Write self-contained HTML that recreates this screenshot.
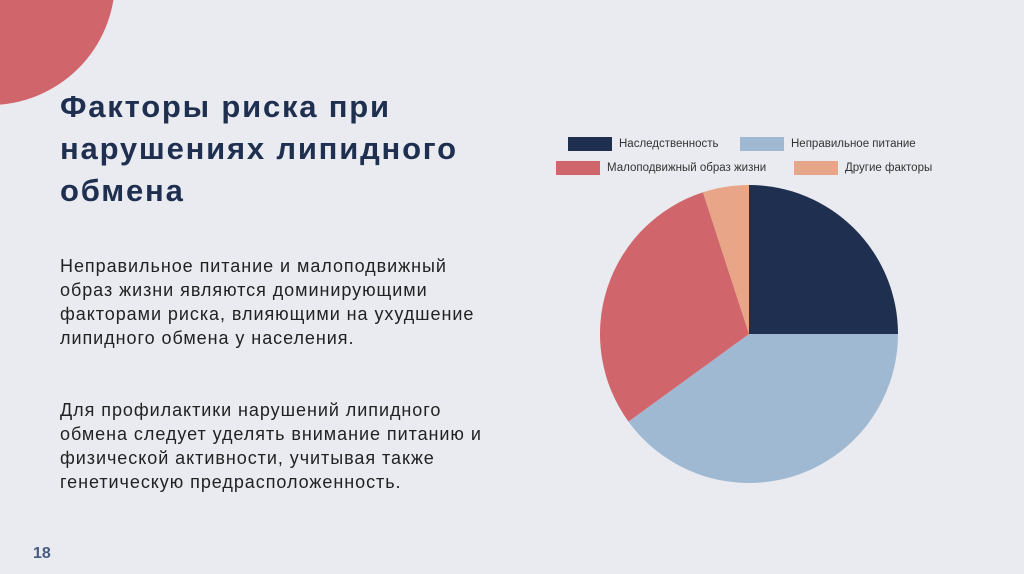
<!DOCTYPE html>
<html><head><meta charset="utf-8"><style>
body{margin:0;width:1024px;height:574px;background:#e9ebf1;position:relative;overflow:hidden;font-family:"Liberation Sans",sans-serif}
.t{position:absolute;left:60px;top:86px;font-size:31px;letter-spacing:1.8px;font-weight:bold;color:#1f2f4f;line-height:42px;margin:0;white-space:nowrap}
.p{position:absolute;left:60px;font-size:18px;letter-spacing:0.95px;line-height:24px;color:#222;margin:0;white-space:nowrap}
.leg{position:absolute;font-size:11.5px;color:#333;display:flex;align-items:center}
.leg i{display:inline-block;width:44px;height:14px;margin-right:7px}
</style></head><body>
<svg style="position:absolute;left:0;top:0" width="130" height="120"><circle cx="-10" cy="-20" r="125" fill="#d1656c"/></svg>
<h1 class="t">Факторы риска при<br>нарушениях липидного<br>обмена</h1>
<p class="p" style="top:254px">Неправильное питание и малоподвижный<br>образ жизни являются доминирующими<br>факторами риска, влияющими на ухудшение<br>липидного обмена у населения.</p>
<p class="p" style="top:398px">Для профилактики нарушений липидного<br>обмена следует уделять внимание питанию и<br>физической активности, учитывая также<br>генетическую предрасположенность.</p>
<div style="position:absolute;left:33px;top:545px;font-size:16px;font-weight:bold;color:#4a5a80">18</div>
<div class="leg" style="left:568px;top:137px"><i style="background:#1f2f4f"></i>Наследственность</div>
<div class="leg" style="left:740px;top:137px"><i style="background:#a0b9d2"></i>Неправильное питание</div>
<div class="leg" style="left:556px;top:161px"><i style="background:#d1656c"></i>Малоподвижный образ жизни</div>
<div class="leg" style="left:794px;top:161px"><i style="background:#e8a587"></i>Другие факторы</div>
<svg id="pie" style="position:absolute;left:0;top:0" width="1024" height="574"></svg>
<script>
const categories=["Наследственность","Неправильное питание","Малоподвижный образ жизни","Другие факторы"];
const values=[25,40,30,5];
const colors=["#1f2f4f","#a0b9d2","#d1656c","#e8a587"];
const cx=749,cy=334,r=149;
const svg=document.getElementById('pie');
const tot=values.reduce((a,b)=>a+b,0);
let a0=0;
values.forEach((v,i)=>{
  const a1=a0+v/tot*2*Math.PI;
  const x0=cx+r*Math.sin(a0),y0=cy-r*Math.cos(a0),x1=cx+r*Math.sin(a1),y1=cy-r*Math.cos(a1);
  const p=document.createElementNS('http://www.w3.org/2000/svg','path');
  p.setAttribute('d',`M${cx},${cy}L${x0},${y0}A${r},${r} 0 ${a1-a0>Math.PI?1:0} 1 ${x1},${y1}Z`);
  p.setAttribute('fill',colors[i]);
  
  
  svg.appendChild(p);
  a0=a1;
});
</script>
</body></html>
